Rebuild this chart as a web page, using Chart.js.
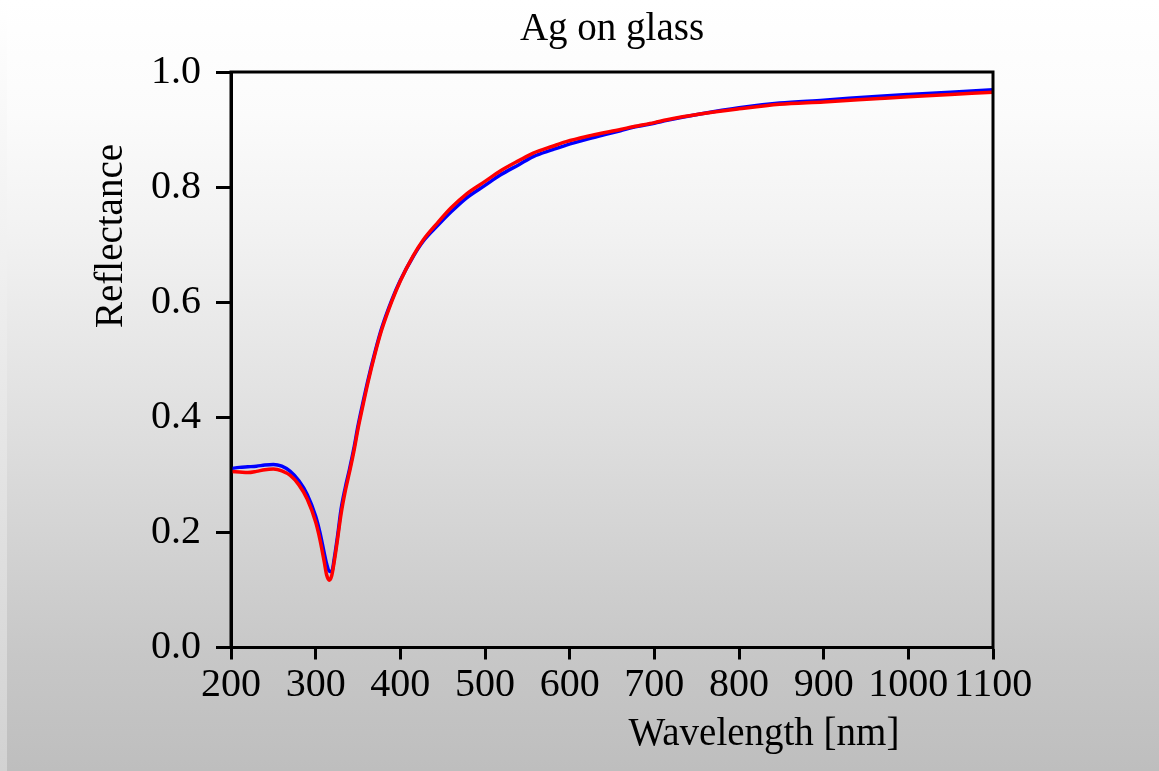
<!DOCTYPE html>
<html>
<head>
<meta charset="utf-8">
<title>Ag on glass</title>
<script src="https://cdn.jsdelivr.net/npm/chart.js@4.4.1/dist/chart.umd.min.js"></script>
<style>
  html, body { margin: 0; padding: 0; background: #fff; }
  #wrap { width: 1159px; height: 771px; }
</style>
</head>
<body>
<div id="wrap"><canvas id="refl" width="1159" height="771"></canvas></div>
<script>
// wavelength grid (nm) shared by both curves
var wavelengths = [200, 210, 220, 230, 240, 250, 260, 270, 280, 290, 300, 305, 310, 313, 316, 319, 322, 326, 330, 335,
    340, 345, 350, 355, 362, 370, 378, 390, 400, 415, 427, 444, 460, 478, 500, 518, 540, 557, 580, 596,
    620, 636, 660, 675, 700, 715, 754, 800, 848, 900, 966, 1000, 1050, 1100];

// measured reflectance (blue)
var reflBlue = [0.311, 0.313, 0.314, 0.315, 0.317, 0.318, 0.315, 0.306, 0.290, 0.266, 0.228, 0.200, 0.165, 0.145, 0.133, 0.132, 0.155, 0.195, 0.240, 0.278,
    0.310, 0.345, 0.385, 0.420, 0.466, 0.513, 0.555, 0.604, 0.638, 0.679, 0.706, 0.733, 0.757, 0.781, 0.803, 0.821, 0.839, 0.853, 0.865, 0.873,
    0.883, 0.889, 0.898, 0.904, 0.911, 0.916, 0.927, 0.938, 0.946, 0.951, 0.958, 0.961, 0.965, 0.969];

// fitted reflectance (red)
var reflRed = [0.306, 0.305, 0.304, 0.306, 0.309, 0.310, 0.307, 0.299, 0.283, 0.258, 0.218, 0.188, 0.150, 0.126, 0.117, 0.125, 0.150, 0.190, 0.232, 0.272,
    0.305, 0.340, 0.380, 0.415, 0.462, 0.510, 0.552, 0.602, 0.637, 0.680, 0.708, 0.738, 0.764, 0.788, 0.810, 0.828, 0.846, 0.859, 0.871, 0.879,
    0.888, 0.893, 0.900, 0.905, 0.912, 0.917, 0.927, 0.936, 0.944, 0.948, 0.954, 0.957, 0.961, 0.965];

var xTicks = [200, 300, 400, 500, 600, 700, 800, 900, 1000, 1100];
var yTicks = [0.0, 0.2, 0.4, 0.6, 0.8, 1.0];

var chartTitle = 'Ag on glass';
var xTitle = 'Wavelength [nm]';
var yTitle = 'Reflectance';

var serif = "'Liberation Serif', 'Times New Roman', serif";

function toPoints(xs, ys) {
    return xs.map(function (x, i) { return { x: x, y: ys[i] }; });
}

// grey gradient behind everything
var backdrop = {
    id: 'backdrop',
    beforeDraw: function (chart) {
        var ctx = chart.ctx, w = chart.width, h = chart.height;
        var g = ctx.createLinearGradient(0, 0, 0, h);
        g.addColorStop(0, '#ffffff');
        g.addColorStop(0.15, '#fbfbfb');
        g.addColorStop(0.3, '#f2f2f2');
        g.addColorStop(0.5, '#e3e3e3');
        g.addColorStop(0.7, '#d3d3d3');
        g.addColorStop(0.85, '#c7c7c7');
        g.addColorStop(1, '#bebebe');
        ctx.save();
        ctx.fillStyle = g;
        ctx.fillRect(0, 0, w, h);
        var g2 = ctx.createLinearGradient(0, 0, 0, h);
        g2.addColorStop(0, '#ffffff');
        g2.addColorStop(1, '#d2d2d2');
        ctx.fillStyle = g2;
        ctx.fillRect(0, 0, 7, h);
        ctx.restore();
    }
};

// box around the plot and the free-standing titles
var frame = {
    id: 'frame',
    afterDraw: function (chart) {
        var ctx = chart.ctx, a = chart.chartArea;
        ctx.save();
        ctx.strokeStyle = '#000';
        ctx.lineWidth = 3;
        ctx.strokeRect(a.left, a.top, a.right - a.left, a.bottom - a.top);

        ctx.fillStyle = '#000';
        ctx.font = '39px ' + serif;
        ctx.textBaseline = 'alphabetic';
        ctx.textAlign = 'center';
        ctx.fillText(chartTitle, (a.left + a.right) / 2, 40);
        ctx.fillText(xTitle, 764, 745);

        ctx.translate(122, 236);
        ctx.rotate(-Math.PI / 2);
        ctx.fillText(yTitle, 0, 0);
        ctx.restore();
    }
};

var ctx = document.getElementById('refl').getContext('2d');
var reflChart = new Chart(ctx, {
    type: 'line',
    data: {
        datasets: [{
            label: 'measured',
            data: toPoints(wavelengths, reflBlue),
            borderColor: '#0000ff',
            borderWidth: 3.5,
            pointRadius: 0,
            cubicInterpolationMode: 'monotone',
            fill: false,
            order: 2
        }, {
            label: 'fit',
            data: toPoints(wavelengths, reflRed),
            borderColor: '#ff0000',
            borderWidth: 3.5,
            pointRadius: 0,
            cubicInterpolationMode: 'monotone',
            fill: false,
            order: 1
        }]
    },
    options: {
        responsive: false,
        animation: false,
        events: [],
        layout: { padding: { top: 72, right: 166, bottom: 0, left: 0 } },
        plugins: {
            legend: { display: false },
            title: { display: false },
            tooltip: { enabled: false }
        },
        scales: {
            x: {
                type: 'linear',
                min: 200,
                max: 1100,
                afterFit: function (scale) { scale.height = 123.5; },
                afterBuildTicks: function (scale) {
                    scale.ticks = xTicks.map(function (v) { return { value: v }; });
                },
                border: { display: true, color: '#000', width: 3 },
                grid: {
                    display: true,
                    drawOnChartArea: false,
                    drawTicks: true,
                    tickLength: 12,
                    tickWidth: 3,
                    tickColor: '#000'
                },
                ticks: {
                    autoSkip: false,
                    maxRotation: 0,
                    padding: 2,
                    color: '#000',
                    font: { family: serif, size: 40 },
                    callback: function (v) { return String(v); }
                }
            },
            y: {
                type: 'linear',
                min: 0,
                max: 1,
                afterFit: function (scale) { scale.width = 231; },
                afterBuildTicks: function (scale) {
                    scale.ticks = yTicks.map(function (v) { return { value: v }; });
                },
                border: { display: true, color: '#000', width: 3 },
                grid: {
                    display: true,
                    drawOnChartArea: false,
                    drawTicks: true,
                    tickLength: 15,
                    tickWidth: 3,
                    tickColor: '#000'
                },
                ticks: {
                    padding: 15,
                    color: '#000',
                    font: { family: serif, size: 40 },
                    callback: function (v) { return Number(v).toFixed(1); }
                }
            }
        }
    },
    plugins: [backdrop, frame]
});
</script>
</body>
</html>
